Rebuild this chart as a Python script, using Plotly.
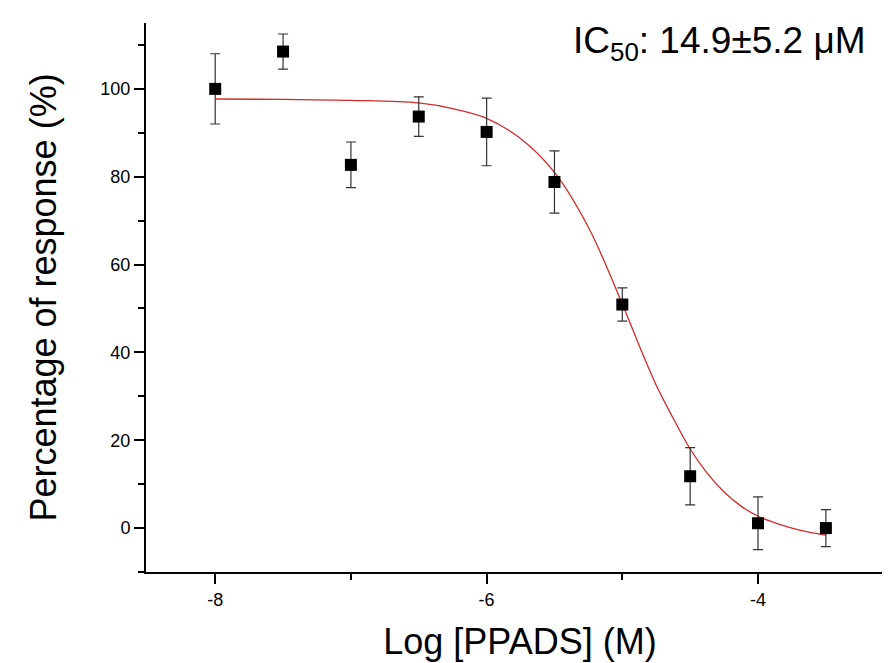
import plotly.graph_objects as go

# measured points (log concentration vs % response, mean +/- error)
log_conc = [-8, -7.5, -7, -6.5, -6, -5.5, -5, -4.5, -4, -3.5]
response = [100, 108.5, 82.7, 93.7, 90.2, 78.8, 50.9, 11.8, 1.1, 0]
response_err = [8, 4, 5.2, 4.5, 7.7, 7.1, 3.8, 6.5, 6, 4.2]

# fitted dose-response curve
fit_x = [-8, -7.5, -7, -6.5, -6.25, -6, -5.75, -5.5, -5.25, -5, -4.875, -4.75,
         -4.625, -4.5, -4.375, -4.25, -4.125, -4, -3.875, -3.75, -3.625, -3.5]
fit_y = [97.7, 97.6, 97.4, 96.8, 95.5, 93.3, 88.7, 81.0, 68.5, 51.0, 41.5, 32.5,
         25.0, 18.0, 12.5, 8.2, 5.0, 2.7, 1.2, 0.0, -0.9, -1.6]

x_ticks = [-8, -6, -4]
x_ticktext = ["-8", "-6", "-4"]
y_ticks = [0, 20, 40, 60, 80, 100]

fig = go.Figure()

fig.add_trace(go.Scatter(x=fit_x, y=fit_y, mode="lines", line_shape="spline",
                         line=dict(color="#d42a2a", width=1.3), hoverinfo="skip"))

fig.add_trace(go.Scatter(x=log_conc, y=response, mode="markers",
                         marker=dict(symbol="square", size=12, color="black"),
                         error_y=dict(type="data", array=response_err, color="#333333",
                                      thickness=1.2, width=5)))

fig.update_layout(
    width=890, height=663,
    margin=dict(l=138, r=4, t=15, b=99),
    plot_bgcolor="white", paper_bgcolor="white",
    showlegend=False,
    font=dict(family="Liberation Sans, Arial", color="black"),
    annotations=[dict(text="IC<sub>50</sub>: 14.9±5.2 μM", xref="paper", yref="paper",
                      x=0.965, y=1.01, xanchor="right", yanchor="top",
                      showarrow=False, font=dict(size=37))],
)

fig.update_xaxes(range=[-8.51, -2.998], showline=True, linecolor="black", linewidth=2,
                 showgrid=False, zeroline=False, ticks="outside", ticklen=10, tickwidth=2,
                 tickcolor="black", tickvals=x_ticks, ticktext=x_ticktext,
                 tickfont=dict(size=18),
                 minor=dict(tickvals=[-7, -5, -3], ticks="outside", ticklen=6,
                            tickwidth=2, tickcolor="black"),
                 title=dict(text="Log [PPADS] (M)", font=dict(size=36), standoff=20))

fig.update_yaxes(range=[-10, 115], showline=True, linecolor="black", linewidth=2,
                 showgrid=False, zeroline=False, ticks="outside", ticklen=10, tickwidth=2,
                 tickcolor="black", tickvals=y_ticks, tickfont=dict(size=18),
                 minor=dict(tickvals=[-10, 10, 30, 50, 70, 90, 110], ticks="outside",
                            ticklen=6, tickwidth=2, tickcolor="black"),
                 title=dict(text="Percentage of response (%)", font=dict(size=36), standoff=33))

fig.write_html("out.html")
